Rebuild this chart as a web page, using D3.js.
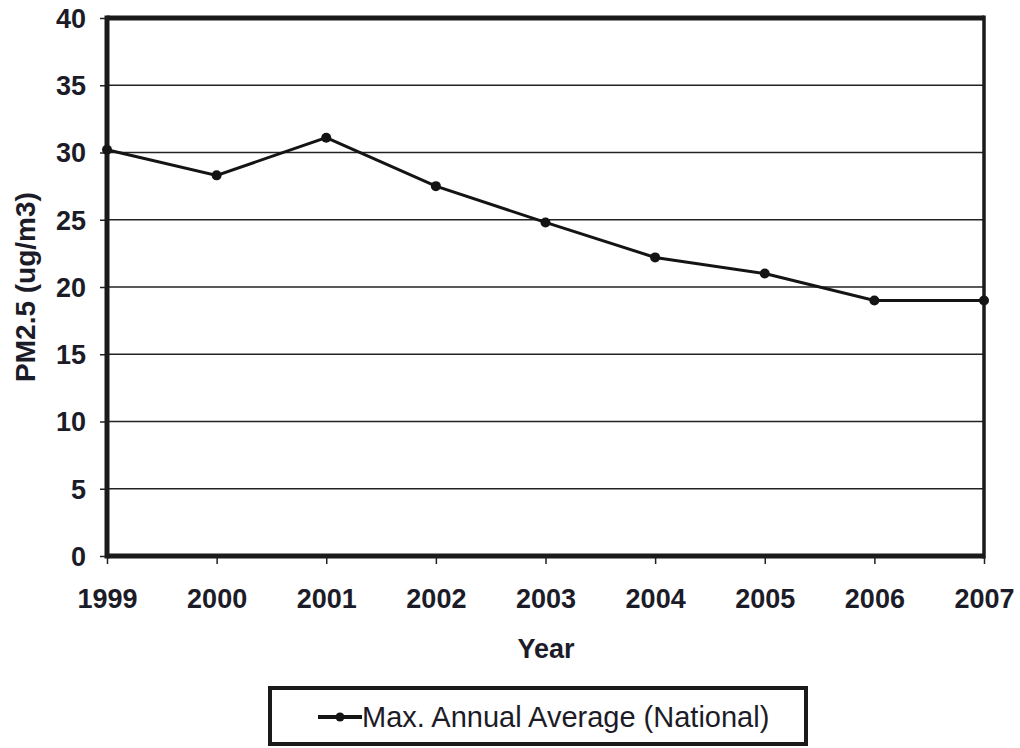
<!DOCTYPE html>
<html>
<head>
<meta charset="utf-8">
<script src="https://cdn.jsdelivr.net/npm/d3@7.9.0/dist/d3.min.js"></script>
<style>
  body { margin: 0; background: #fff; }
  text { font-family: "Liberation Sans", Arial, sans-serif; fill: #1c1c28; }
</style>
</head>
<body>
<svg id="chart"></svg>
<script>
// data
const years = [1999, 2000, 2001, 2002, 2003, 2004, 2005, 2006, 2007];
const pm25 = [30.2, 28.3, 31.1, 27.5, 24.8, 22.2, 21.0, 19.0, 19.0];
const yTicks = [0, 5, 10, 15, 20, 25, 30, 35, 40];
const seriesName = "Max. Annual Average (National)";

const W = 1020, H = 748;
const margin = { top: 18, right: 36, bottom: 192, left: 107 };
const width = W - margin.left - margin.right;
const height = H - margin.top - margin.bottom;

const svg = d3.select("#chart").attr("width", W).attr("height", H);
const g = svg.append("g").attr("transform", `translate(${margin.left},${margin.top})`);

const x = d3.scaleLinear().domain([1999, 2007]).range([0, width]);
const y = d3.scaleLinear().domain([0, 40]).range([height, 0]);

// horizontal gridlines
g.selectAll(".grid").data(yTicks.slice(1, -1)).enter().append("line")
  .attr("x1", 0).attr("x2", width)
  .attr("y1", d => y(d)).attr("y2", d => y(d))
  .attr("stroke", "#222").attr("stroke-width", 1.5);

// axes
const yAxis = g.append("g")
  .call(d3.axisLeft(y).tickValues(yTicks).tickSize(7).tickPadding(14));
const xAxis = g.append("g").attr("transform", `translate(0,${height})`)
  .call(d3.axisBottom(x).tickValues(years).tickFormat(d3.format("d")).tickSize(8).tickPadding(25));

[yAxis, xAxis].forEach(a => {
  a.select(".domain").remove();
  a.selectAll(".tick line").attr("stroke", "#222").attr("stroke-width", 1.5);
  a.selectAll("text").style("font-size", "27px").style("font-weight", "bold").attr("fill", "#1c1c28");
});
yAxis.selectAll("text").attr("dy", "0.35em");

// frame
g.append("line").attr("x1", 0).attr("x2", width).attr("y1", 0).attr("y2", 0)
  .attr("stroke", "#1a1a1a").attr("stroke-width", 5);
g.append("line").attr("x1", 0).attr("x2", width).attr("y1", height).attr("y2", height)
  .attr("stroke", "#1a1a1a").attr("stroke-width", 5);
g.append("line").attr("x1", 0).attr("x2", 0).attr("y1", -2.5).attr("y2", height + 2.5)
  .attr("stroke", "#1a1a1a").attr("stroke-width", 5);
g.append("line").attr("x1", width).attr("x2", width).attr("y1", -2.5).attr("y2", height + 2.5)
  .attr("stroke", "#1a1a1a").attr("stroke-width", 3.5);

// series
const pts = years.map((yr, i) => ({ yr, v: pm25[i] }));
g.append("path").datum(pts)
  .attr("fill", "none").attr("stroke", "#141414").attr("stroke-width", 3)
  .attr("d", d3.line().x(d => x(d.yr)).y(d => y(d.v)));
g.selectAll(".pt").data(pts).enter().append("circle")
  .attr("cx", d => x(d.yr)).attr("cy", d => y(d.v)).attr("r", 5)
  .attr("fill", "#141414");

// axis titles
svg.append("text")
  .attr("transform", `translate(35,${margin.top + height / 2}) rotate(-90)`)
  .attr("text-anchor", "middle")
  .style("font-size", "28px").style("font-weight", "bold")
  .text("PM2.5 (ug/m3)");
svg.append("text")
  .attr("x", 546).attr("y", 658)
  .attr("text-anchor", "middle")
  .style("font-size", "27px").style("font-weight", "bold")
  .text("Year");

// legend
const lg = svg.append("g").attr("transform", "translate(270,688)");
lg.append("rect").attr("width", 536).attr("height", 56)
  .attr("fill", "#fff").attr("stroke", "#1a1a1a").attr("stroke-width", 4);
lg.append("line").attr("x1", 48).attr("x2", 92).attr("y1", 29).attr("y2", 29)
  .attr("stroke", "#141414").attr("stroke-width", 4);
lg.append("circle").attr("cx", 70).attr("cy", 29).attr("r", 4.5).attr("fill", "#141414");
lg.append("text").attr("x", 92).attr("y", 39)
  .style("font-size", "29px")
  .text(seriesName);
</script>
</body>
</html>
